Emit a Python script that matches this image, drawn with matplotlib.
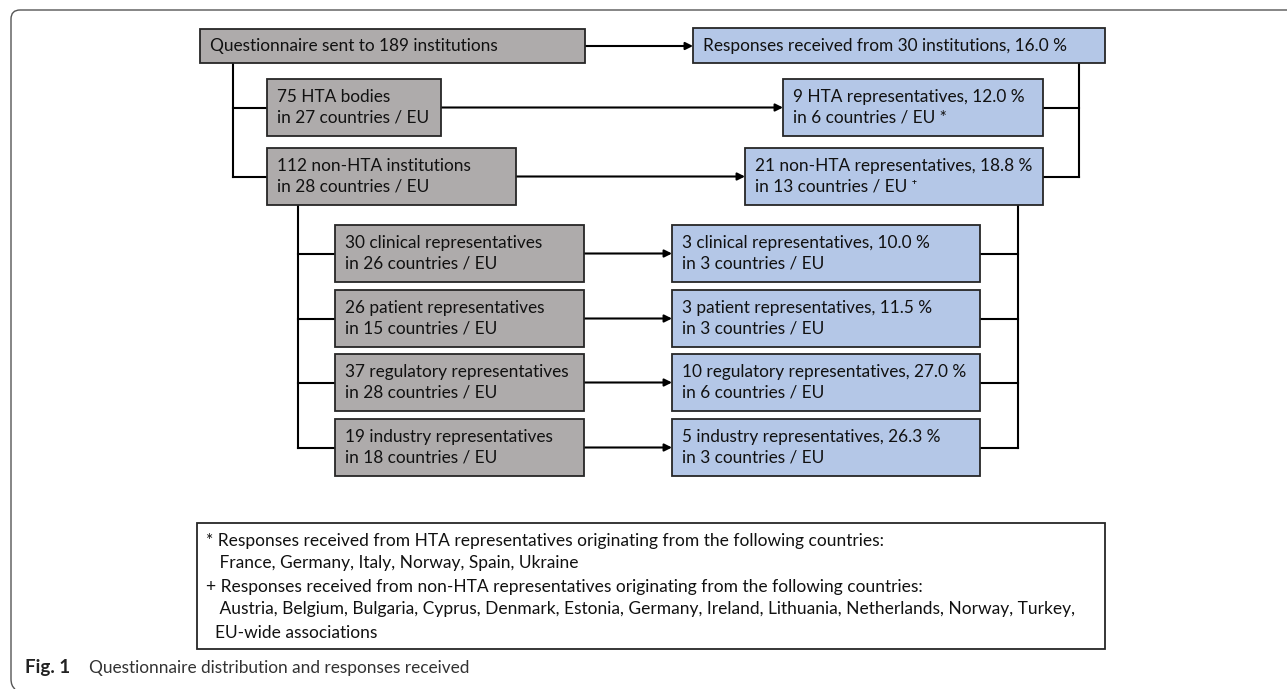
import matplotlib
matplotlib.use('Agg')
from matplotlib import pyplot as plt
from matplotlib.patches import Rectangle
from matplotlib.path import Path
from matplotlib.patches import PathPatch

plt.rcParams['font.family'] = ['Lato', 'DejaVu Sans']

# box texts
top_left = "Questionnaire sent to 189 institutions"
top_right = "Responses received from 30 institutions, 16.0 %"

level1_left = ["75 HTA bodies\nin 27 countries / EU",
               "112 non-HTA institutions\nin 28 countries / EU"]
level1_right = ["9 HTA representatives, 12.0 %\nin 6 countries / EU *",
                "21 non-HTA representatives, 18.8 %\nin 13 countries / EU \u207a"]

groups_left = ["30 clinical representatives\nin 26 countries / EU",
               "26 patient representatives\nin 15 countries / EU",
               "37 regulatory representatives\nin 28 countries / EU",
               "19 industry representatives\nin 18 countries / EU"]
groups_right = ["3 clinical representatives, 10.0 %\nin 3 countries / EU",
                "3 patient representatives, 11.5 %\nin 3 countries / EU",
                "10 regulatory representatives, 27.0 %\nin 6 countries / EU",
                "5 industry representatives, 26.3 %\nin 3 countries / EU"]

footnotes = ["* Responses received from HTA representatives originating from the following countries:",
             "   France, Germany, Italy, Norway, Spain, Ukraine",
             "+ Responses received from non-HTA representatives originating from the following countries:",
             "   Austria, Belgium, Bulgaria, Cyprus, Denmark, Estonia, Germany, Ireland, Lithuania, Netherlands, Norway, Turkey,",
             "  EU-wide associations"]

caption = "Questionnaire distribution and responses received"

GRAY = '#aeabab'
BLUE = '#b4c7e7'
EDGE = '#262626'
FS = 12.4

fig = plt.figure(figsize=(12.87, 6.89), dpi=100)
ax = fig.add_axes([0, 0, 1, 1])
ax.set_xlim(0, 1287)
ax.set_ylim(689, 0)
ax.axis('off')


def box(x0, x1, y0, y1, color, text):
    ax.add_patch(Rectangle((x0, y0), x1 - x0, y1 - y0, facecolor=color,
                           edgecolor=EDGE, linewidth=1.3, zorder=2))
    ax.text(x0 + 10, (y0 + y1) / 2, text, fontsize=FS, va='center', ha='left',
            linespacing=1.35, color='#111111', zorder=3)


def line(xs, ys):
    ax.plot(xs, ys, color='black', linewidth=1.5, zorder=1, solid_capstyle='projecting')


def arrow(x0, x1, y):
    ax.annotate('', xy=(x1, y), xytext=(x0, y),
                arrowprops=dict(arrowstyle='-|>', color='black', lw=1.5,
                                mutation_scale=11, shrinkA=0, shrinkB=0), zorder=1)


# outer frame
verts = [(1287, 10), (20, 10), (11, 10), (11, 19), (11, 679), (11, 686), (15, 689)]
codes = [Path.MOVETO, Path.LINETO, Path.CURVE3, Path.CURVE3, Path.LINETO, Path.CURVE3, Path.CURVE3]
ax.add_patch(PathPatch(Path(verts, codes), facecolor='none', edgecolor='#555555', linewidth=1.0))

# top row
box(200, 585, 29, 63, GRAY, top_left)
box(693, 1105, 28, 63, BLUE, top_right)
arrow(585, 693, 46)

# level 1
l1_y = [(79, 136), (148, 205)]
l1_left_x = [(267, 441), (267, 516)]
l1_right_x = [(783, 1043), (745, 1043)]
for i in range(len(level1_left)):
    y0, y1 = l1_y[i]
    ym = (y0 + y1) / 2
    box(l1_left_x[i][0], l1_left_x[i][1], y0, y1, GRAY, level1_left[i])
    box(l1_right_x[i][0], l1_right_x[i][1], y0, y1, BLUE, level1_right[i])
    arrow(l1_left_x[i][1], l1_right_x[i][0], ym)
    line([233, l1_left_x[i][0]], [ym, ym])
    line([1043, 1079], [ym, ym])
line([233, 233], [63, (l1_y[-1][0] + l1_y[-1][1]) / 2])
line([1079, 1079], [63, (l1_y[-1][0] + l1_y[-1][1]) / 2])

# level 2
g_y = [(225, 282), (290, 347), (354, 411), (419, 476)]
for i in range(len(groups_left)):
    y0, y1 = g_y[i]
    ym = (y0 + y1) / 2
    box(335, 584, y0, y1, GRAY, groups_left[i])
    box(672, 980, y0, y1, BLUE, groups_right[i])
    arrow(584, 672, ym)
    line([298, 335], [ym, ym])
    line([980, 1018], [ym, ym])
line([298, 298], [205, (g_y[-1][0] + g_y[-1][1]) / 2])
line([1018, 1018], [205, (g_y[-1][0] + g_y[-1][1]) / 2])

# footnote box
ax.add_patch(Rectangle((197, 523), 1105 - 197, 649 - 523, facecolor='white',
                       edgecolor=EDGE, linewidth=1.3))
fn_y = [541, 563, 587, 609, 633]
for t, y in zip(footnotes, fn_y):
    ax.text(206, y, t, fontsize=12.5, va='center', ha='left', color='#111111')

# caption
ax.text(25, 668, "Fig. 1", fontsize=13.5, fontweight='bold', va='center', ha='left', color='#222222')
ax.text(89, 668, caption, fontsize=12.4, va='center', ha='left', color='#333333')

fig.savefig('out.png', dpi=100)
